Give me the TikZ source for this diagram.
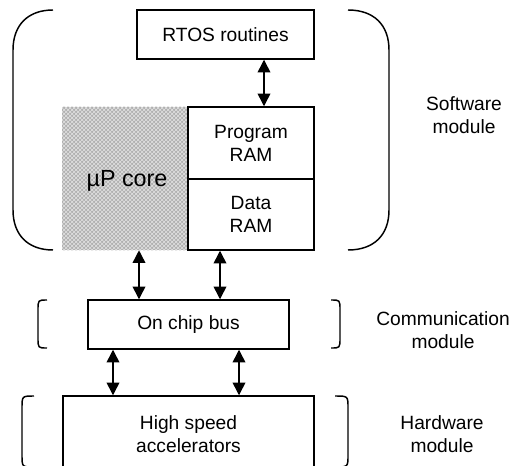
\documentclass[tikz,border=0pt]{standalone}
\usepackage{fontspec}
\setmainfont{Liberation Sans}
\usetikzlibrary{arrows.meta,patterns}
\begin{document}
\begin{tikzpicture}[x=0.75pt,y=-0.75pt,
  box/.style={draw=black,line width=1.1pt,fill=white,inner sep=0pt,align=center,
    font=\fontsize{14.4}{17.3}\selectfont},
  biarrow/.style={{Triangle[width=9.5pt,length=9.5pt]}-{Triangle[width=9.5pt,length=9.5pt]},line width=1.1pt},
  brace/.style={line width=1.1pt},
  lbl/.style={align=center,font=\fontsize{14.4}{17.3}\selectfont}]
\useasboundingbox (0,0) rectangle (516,466);
\clip (0,0) rectangle (516,466);
% boxes
\node[box,minimum width=132.75pt,minimum height=36.75pt] (rtos) at (225.5,34.5) {RTOS routines};
\node[inner sep=0pt,minimum width=94.5pt,minimum height=107.25pt,
  preaction={fill=gray!62},pattern=crosshatch,pattern color=gray!22] (core) at (125,178.5) {};
\node[font=\fontsize{17.5}{21}\selectfont] (coretext) at (127,181) {µP core};
\node[box,minimum width=94.5pt,minimum height=54pt] (pram) at (251,143) {Program\\RAM};
\node[box,minimum width=94.5pt,minimum height=53.25pt] (dram) at (251,214.5) {Data\\RAM};
\node[box,minimum width=150.75pt,minimum height=36.75pt] (bus) at (188.5,324.5) {On chip bus};
\node[box,minimum width=188.25pt,minimum height=57pt] (hw) at (188.5,434) {High speed\\accelerators};
% arrows
\draw[biarrow] (rtos.south -| 264,0) -- (pram.north -| 264,0);
\draw[biarrow] (core.south -| 139,0) -- (bus.north -| 139,0);
\draw[biarrow] (dram.south -| 220,0) -- (bus.north -| 220,0);
\draw[biarrow] (bus.south -| 113,0) -- (hw.north -| 113,0);
\draw[biarrow] (bus.south -| 239,0) -- (hw.north -| 239,0);
% brackets
\draw[brace] (53,10) .. controls (28,10) and (13,25) .. (13,50) -- (13,210) .. controls (13,235) and (28,250) .. (53,250);
\draw[brace] (348,10) .. controls (374,10) and (389,25) .. (389,50) -- (389,210) .. controls (389,235) and (374,250) .. (348,250);
\draw[brace] (47,300) .. controls (38,300) .. (38,310) -- (38,338) .. controls (38,348) .. (47,348);
\draw[brace] (331,300) .. controls (340,300) .. (340,310) -- (340,338) .. controls (340,348) .. (331,348);
\draw[brace] (34,396) .. controls (22,396) .. (22,408) -- (22,455) .. controls (22,467) .. (34,467);
\draw[brace] (335,396) .. controls (348,396) .. (348,408) -- (348,455) .. controls (348,467) .. (335,467);
% labels
\node[lbl] (sw) at (464,115) {Software\\module};
\node[lbl] (cm) at (443,330) {Communication\\module};
\node[lbl] (hm) at (442,434) {Hardware\\module};
\end{tikzpicture}
\end{document}
